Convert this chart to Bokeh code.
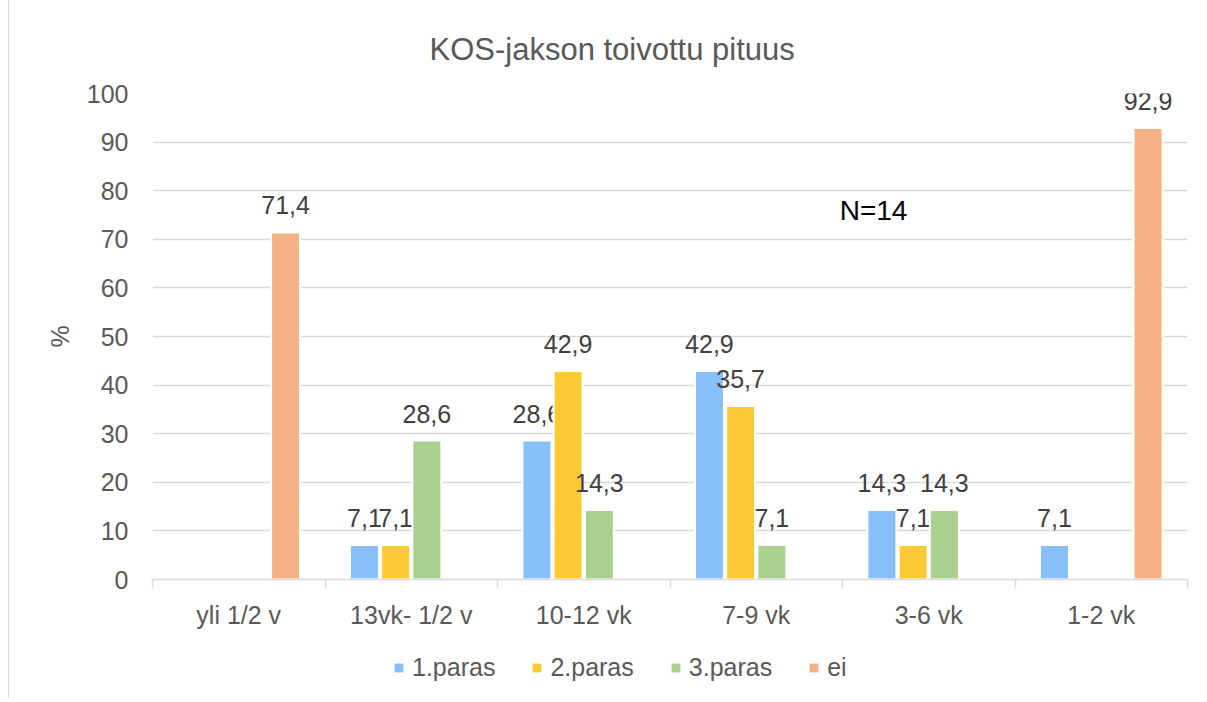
from bokeh.plotting import figure
from bokeh.layouts import column
from bokeh.models import (ColumnDataSource, FixedTicker, Legend, LegendItem, Label, Title, Range1d)
from bokeh.embed import file_html
from bokeh.resources import INLINE
from bokeh.core.properties import value

categories = ["yli 1/2 v", "13vk- 1/2 v", "10-12 vk", "7-9 vk", "3-6 vk", "1-2 vk"]
series_names = ["1.paras", "2.paras", "3.paras", "ei"]
paras1 = [0, 7.1, 28.6, 42.9, 14.3, 7.1]
paras2 = [0, 7.1, 42.9, 35.7, 7.1, 0]
paras3 = [0, 28.6, 14.3, 7.1, 14.3, 0]
ei = [71.4, 0, 0, 0, 0, 92.9]
y_ticks = [0, 10, 20, 30, 40, 50, 60, 70, 80, 90, 100]
note_text = "N=14"

colors = ["#86BFF9", "#FDCA33", "#A9D08E", "#F4B183"]
FONT = "Liberation Sans"
GREY = "#595959"

p = figure(width=1195, height=640, output_backend="svg", toolbar_location=None,
           x_range=(0, len(categories)), y_range=(0, 100),
           min_border_left=143, min_border_right=17, min_border_top=93, min_border_bottom=61)
p.outline_line_color = None

t = Title(text="KOS-jakson toivottu pituus", align="left", offset=277,
          text_font=FONT, text_font_size="31px", text_font_style="normal",
          text_color=GREY, standoff=54)
p.add_layout(t, "above")

step = 0.181
bar_w = 0.168
offsets = [-1.5 * step, -0.5 * step, 0.5 * step, 1.5 * step]
all_series = [paras1, paras2, paras3, ei]

sources = []
for name, vals, col, off in zip(series_names, all_series, colors, offsets):
    xs = [i + 0.5 + off for i, v in enumerate(vals) if v > 0]
    ys = [v for v in vals if v > 0]
    labels = [f"{v:.1f}".replace(".", ",") for v in ys]
    src = ColumnDataSource(dict(x=xs, top=ys, label=labels))
    sources.append(src)
    p.vbar(x="x", top="top", width=bar_w, bottom=0, source=src,
           fill_color=col, line_color="white", line_width=2)
    p.text(x="x", y="top", text="label", source=src, text_align="center",
           text_baseline="bottom", y_offset=-18, text_font=value(FONT),
           text_font_size="25px", text_color="#404040")

p.add_layout(Label(x=4.18, y=76, text=note_text, text_align="center",
                   text_baseline="middle", text_font=FONT, text_font_size="28px",
                   text_color="#000000"))

# axes
p.yaxis.ticker = FixedTicker(ticks=y_ticks)
p.yaxis.axis_line_color = None
p.yaxis.major_tick_line_color = None
p.yaxis.minor_tick_line_color = None
p.yaxis.major_label_text_font = FONT
p.yaxis.major_label_text_font_size = "25px"
p.yaxis.major_label_text_color = GREY
p.yaxis.major_label_standoff = 18
p.yaxis.axis_label = "%"
p.yaxis.axis_label_text_font = FONT
p.yaxis.axis_label_text_font_size = "25px"
p.yaxis.axis_label_text_font_style = "normal"
p.yaxis.axis_label_text_color = GREY
p.yaxis.axis_label_standoff = 10

centers = [i + 0.5 for i in range(len(categories))]
p.xaxis.ticker = FixedTicker(ticks=centers, minor_ticks=list(range(len(categories) + 1)))
p.xaxis.major_label_overrides = {c: lab for c, lab in zip(centers, categories)}
p.xaxis.axis_line_color = "#d9d9d9"
p.xaxis.axis_line_width = 1.5
p.xaxis.major_tick_line_color = None
p.xaxis.major_tick_out = 0
p.xaxis.major_tick_in = 0
p.xaxis.minor_tick_line_color = "#d9d9d9"
p.xaxis.minor_tick_line_width = 1.5
p.xaxis.minor_tick_out = 8
p.xaxis.minor_tick_in = 0
p.xaxis.major_label_text_font = FONT
p.xaxis.major_label_text_font_size = "25px"
p.xaxis.major_label_text_color = GREY
p.xaxis.major_label_standoff = 13

p.xgrid.grid_line_color = None
p.ygrid.ticker = FixedTicker(ticks=y_ticks[1:])
p.ygrid.grid_line_color = "#d9d9d9"
p.ygrid.grid_line_width = 1.5

# legend strip below the chart (its bars lie far outside its visible range)
p2 = figure(width=1195, height=58, output_backend="svg", toolbar_location=None,
            x_range=Range1d(0, len(categories)), y_range=Range1d(1000, 1001),
            x_axis_type=None, y_axis_type=None,
            min_border_left=0, min_border_right=0, min_border_top=0, min_border_bottom=0)
p2.outline_line_color = None
p2.grid.visible = False
items = []
for name, col, src in zip(series_names, colors, sources):
    r = p2.vbar(x="x", top="top", bottom=0, width=bar_w, source=src,
                fill_color=col, line_color=None)
    items.append(LegendItem(label=name, renderers=[r]))
legend = Legend(items=items, orientation="horizontal", location=(241, 16),
                border_line_color=None, background_fill_alpha=0,
                label_text_font=FONT, label_text_font_size="25px", label_text_color=GREY,
                glyph_width=11, glyph_height=11, label_standoff=8, spacing=36,
                padding=0, margin=0)
p2.add_layout(legend, "center")

layout = column(p, p2, spacing=0)
layout.styles = {"border-left": "1.5px solid #d9d9d9", "margin-left": "8px"}

open("out.html", "w").write(file_html(layout, INLINE))
